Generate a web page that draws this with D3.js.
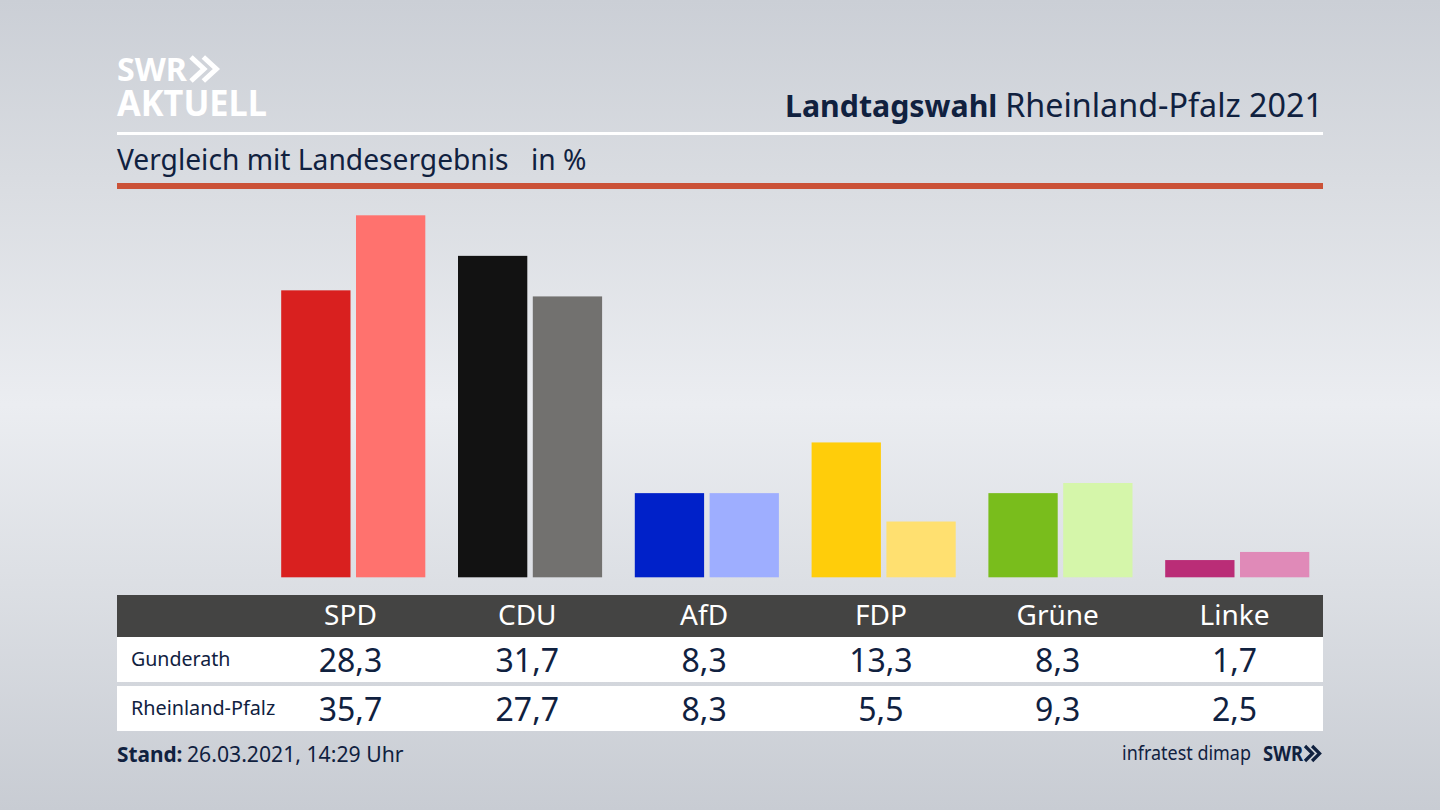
<!DOCTYPE html>
<html><head><meta charset="utf-8">
<script src="https://cdn.jsdelivr.net/npm/d3@7"></script>
<style>html,body{margin:0;padding:0;background:#d5d8de;overflow:hidden}svg{display:block}text{font-family:"Noto Sans",sans-serif;fill:#10213f}</style>
</head><body><svg id="c" width="1440" height="810"></svg>
<script>
const categories=["SPD","CDU","AfD","FDP","Grüne","Linke"];
const rowLabels=["Gunderath","Rheinland-Pfalz"];
const gunderath=[28.3,31.7,8.3,13.3,8.3,1.7];
const rheinlandPfalz=[35.7,27.7,8.3,5.5,9.3,2.5];
const gunderathColors=["#d9201f","#121212","#0021c9","#ffcd0a","#79bd1c","#ba2d77"];
const landColors=["#ff726e","#72716f","#9eaeff","#ffe070","#d5f6aa","#e08ab8"];
const fmt=v=>v.toFixed(1).replace(".",",");
const svg=d3.select("#c");
const defs=svg.append("defs");
const bg=defs.append("linearGradient").attr("id","bg").attr("x1",0).attr("x2",0).attr("y1",0).attr("y2",1);
[[0,"#cbcfd6"],[.22,"#d9dce1"],[.5,"#ebedf1"],[.72,"#dcdfe4"],[1,"#c8ccd3"]].forEach(d=>bg.append("stop").attr("offset",d[0]).attr("stop-color",d[1]));
svg.append("rect").attr("width",1440).attr("height",810).attr("fill","url(#bg)");

const x=d3.scaleBand().domain(categories).range([262.1,1322.9]).paddingInner(0).paddingOuter(0);
const y=d3.scaleLinear().domain([0,35.7]).range([577.3,215.3]);
const barW=69.3,gap=5.5;
const cx=c=>x(c)+x.bandwidth()/2;
const bars=svg.append("g");
[[gunderath,gunderathColors,-1],[rheinlandPfalz,landColors,1]].forEach(([vals,cols,side])=>{
  bars.selectAll(null).data(categories).join("rect")
    .attr("x",c=>side<0?cx(c)-barW:cx(c)+gap)
    .attr("width",barW)
    .attr("y",(c,i)=>y(vals[i]))
    .attr("height",(c,i)=>y(0)-y(vals[i]))
    .attr("fill",(c,i)=>cols[i]);
});

// Header
svg.append("rect").attr("x",117).attr("y",132).attr("width",1206).attr("height",3).attr("fill","#fff");
svg.append("rect").attr("x",117).attr("y",183).attr("width",1206).attr("height",6).attr("fill","#cb5238");
svg.append("text").attr("x",117).attr("y",170).attr("font-size",28.2).text("Vergleich mit Landesergebnis");
svg.append("text").attr("x",531).attr("y",170).attr("font-size",28.2).text("in %");
svg.append("text").attr("x",785).attr("y",117).attr("font-size",30.3).attr("font-weight",700).text("Landtagswahl");
svg.append("text").attr("x",1323).attr("y",117).attr("text-anchor","end").attr("font-size",32.3).text("Rheinland-Pfalz 2021");

// Logo
const chev=(g,x0,yc,h,w,sw,col)=>{[0,1].forEach(i=>g.append("path")
  .attr("d",d3.line()([[x0+i*w*.95,yc-h/2],[x0+i*w*.95+w,yc],[x0+i*w*.95,yc+h/2]]))
  .attr("fill","none").attr("stroke",col).attr("stroke-width",sw));};
const logo=svg.append("g");
logo.append("text").attr("x",117).attr("y",81).attr("font-size",33).attr("font-weight",700).style("fill","#fff").attr("textLength",70).attr("lengthAdjust","spacingAndGlyphs").text("SWR");
chev(logo,191,69,24,13,5,"#fff");
logo.append("text").attr("x",117).attr("y",116).attr("font-size",36).attr("font-weight",700).style("fill","#fff").attr("textLength",150).attr("lengthAdjust","spacingAndGlyphs").text("AKTUELL");

// Table
svg.append("rect").attr("x",117).attr("y",595).attr("width",1206).attr("height",42).attr("fill","#444443");
svg.append("rect").attr("x",117).attr("y",637).attr("width",1206).attr("height",45).attr("fill","#fff");
svg.append("rect").attr("x",117).attr("y",686).attr("width",1206).attr("height",45).attr("fill","#fff");
svg.selectAll(null).data(categories).join("text")
  .attr("x",cx).attr("y",625).attr("text-anchor","middle").attr("font-size",28).style("fill","#fff").text(c=>c);
[[gunderath,671],[rheinlandPfalz,720]].forEach(([vals,yy],r)=>{
  svg.append("text").attr("x",131).attr("y",yy-5).attr("font-size",r?19.8:19.6).text(rowLabels[r]);
  svg.selectAll(null).data(vals).join("text")
    .attr("x",(v,i)=>cx(categories[i])).attr("y",yy+.5).attr("text-anchor","middle").attr("font-size",32).text(fmt);
});

// Footer
svg.append("text").attr("x",117).attr("y",762).attr("font-size",20.8).attr("font-weight",700).text("Stand:");
svg.append("text").attr("x",187).attr("y",762).attr("font-size",21.2).text("26.03.2021, 14:29 Uhr");
svg.append("text").attr("x",1122).attr("y",760).attr("font-size",20).attr("textLength",129).attr("lengthAdjust","spacingAndGlyphs").text("infratest dimap");
svg.append("text").attr("x",1263).attr("y",761).attr("font-size",21).attr("font-weight",700).attr("textLength",40).attr("lengthAdjust","spacingAndGlyphs").text("SWR");
chev(svg.append("g"),1305,753.5,15,7.5,3.2,"#10213f");
</script></body></html>
